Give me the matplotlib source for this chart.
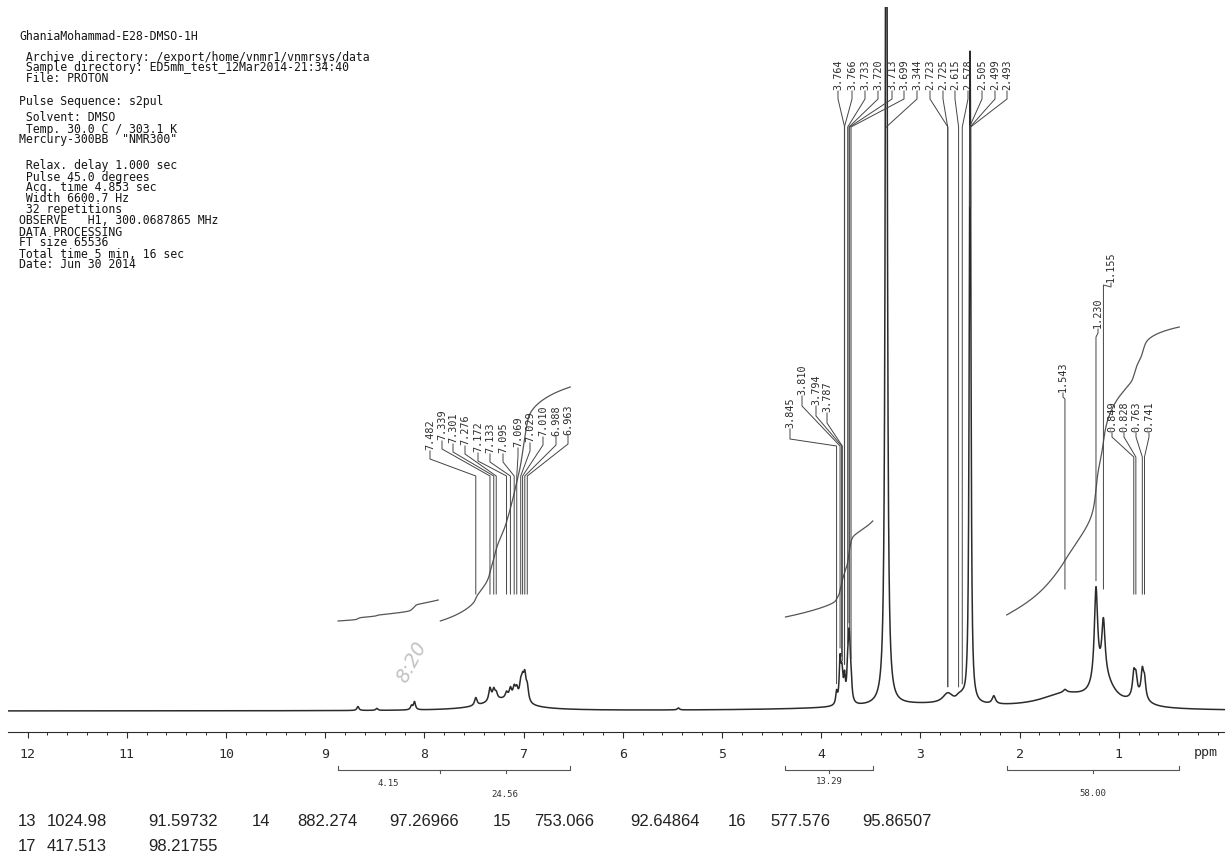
import matplotlib
matplotlib.use('Agg')
import matplotlib.pyplot as plt
import numpy as np
from matplotlib.ticker import MultipleLocator

W, H = 1225, 854
AXIS_Y = 733      # pixel row of the ppm axis line
BASE_Y = 712      # pixel row of the flat baseline

# ppm scale: column = 1218 - 99.2 * ppm
def px2ppm(x):
	return (1218 - x) / 99.2

def py(y):
	return AXIS_Y - y


header = [
	(36, 'GhaniaMohammad-E28-DMSO-1H'),
	(57, ' Archive directory: /export/home/vnmr1/vnmrsys/data'),
	(68, ' Sample directory: ED5mm_test_12Mar2014-21:34:40'),
	(79, ' File: PROTON'),
	(101, 'Pulse Sequence: s2pul'),
	(118, ' Solvent: DMSO'),
	(129, ' Temp. 30.0 C / 303.1 K'),
	(140, 'Mercury-300BB  "NMR300"'),
	(166, ' Relax. delay 1.000 sec'),
	(177, ' Pulse 45.0 degrees'),
	(188, ' Acq. time 4.853 sec'),
	(199, ' Width 6600.7 Hz'),
	(210, ' 32 repetitions'),
	(221, 'OBSERVE   H1, 300.0687865 MHz'),
	(232, 'DATA PROCESSING'),
	(243, 'FT size 65536'),
	(254, 'Total time 5 min, 16 sec'),
	(265, 'Date: Jun 30 2014'),
]

# labelled lines: shift (ppm), height above baseline (px), half width (ppm)
top_vals    = [3.764, 3.766, 3.733, 3.720, 3.713, 3.699, 3.344, 2.723, 2.725, 2.615, 2.578, 2.505, 2.499, 2.493]
top_heights = [12, 12, 30, 40, 30, 20, 1200, 5, 5, 4, 4, 150, 460, 150]
top_widths  = [0.01, 0.01, 0.01, 0.01, 0.01, 0.01, 0.01, 0.06, 0.06, 0.03, 0.03, 0.008, 0.008, 0.008]

mid_vals    = [3.845, 3.810, 3.794, 3.787]
mid_heights = [12, 42, 18, 14]
mid_widths  = [0.01, 0.01, 0.01, 0.01]

arom_vals    = [7.482, 7.339, 7.301, 7.276, 7.172, 7.133, 7.095, 7.069, 7.029, 7.010, 6.988, 6.963]
arom_heights = [8, 13, 10, 6, 6, 10, 11, 10, 14, 17, 23, 14]
arom_widths  = [0.015] * 12

right_vals    = [1.543, 1.230, 1.155, 0.849, 0.828, 0.763, 0.741]
right_heights = [3, 95, 55, 22, 18, 25, 18]
right_widths  = [0.02, 0.02, 0.02, 0.015, 0.015, 0.015, 0.015]

# unlabelled small lines and broad humps
extra_ppm     = [8.67, 8.48, 8.13, 8.10, 5.44, 2.26, 7.2, 3.0, 1.55, 1.15, 0.8]
extra_heights = [4, 2, 4, 8, 2, 8, 11, 6, 14, 25, 8]
extra_widths  = [0.012, 0.012, 0.012, 0.012, 0.012, 0.02, 0.25, 0.9, 0.3, 0.12, 0.1]

# integral regions (ppm), curve start / end rows, printed values
int_start  = [8.87, 7.84, 4.36, 2.13]
int_end    = [7.86, 6.53, 3.48, 0.39]
int_y0     = [622, 622, 618, 616]
int_y1     = [601, 388, 522, 328]
int_values = ['4.15', '24.56', '13.29', '58.00']

# peak table printed under the spectrum
table_rows = [
	['13', '1024.98', '91.59732', '14', '882.274', '97.26966', '15', '753.066', '92.64864', '16', '577.576', '95.86507'],
	['17', '417.513', '98.21755'],
]
table_x = [18, 47, 148, 252, 297, 389, 493, 534, 630, 728, 770, 862]
table_y = [822, 847]


ppm = np.linspace(12.2, -0.08, 12000)

def lorentz(p0, h, w):
	return h / (1 + ((ppm - p0) / w) ** 2)

spec = np.zeros_like(ppm)
for vals, hs, ws in [(top_vals, top_heights, top_widths),
					 (mid_vals, mid_heights, mid_widths),
					 (arom_vals, arom_heights, arom_widths),
					 (right_vals, right_heights, right_widths),
					 (extra_ppm, extra_heights, extra_widths)]:
	for p0, h, w in zip(vals, hs, ws):
		spec += lorentz(p0, h, w)

def spec_at(p):
	return np.interp(p, ppm[::-1], spec[::-1])


fig = plt.figure(figsize=(W / 100, H / 100), dpi=100)
ax = fig.add_axes([8 / W, (H - AXIS_Y) / H, (W - 8) / W, (AXIS_Y - 8) / H])
ax.set_xlim(px2ppm(8), px2ppm(W))
ax.set_ylim(0, AXIS_Y - 8)

ink = '#2b2b2b'
ax.plot(ppm, py(BASE_Y) + spec, color=ink, lw=1.1)

# axis
for s in ['top', 'left', 'right']:
	ax.spines[s].set_visible(False)
ax.spines['bottom'].set_color(ink)
ax.set_yticks([])
ax.set_xticks(range(1, 13))
ax.xaxis.set_minor_locator(MultipleLocator(0.2))
ax.tick_params(axis='x', which='major', direction='out', length=4.5, width=0.8, pad=6, color=ink,
			   labelsize=9.5, labelcolor=ink)
ax.tick_params(axis='x', which='minor', direction='out', length=2.5, width=0.7, color=ink)
for t in ax.get_xticklabels():
	t.set_family('DejaVu Sans Mono')
ax.text(0, py(753), 'ppm', ha='right', va='center', family='DejaVu Sans Mono', fontsize=9.5,
		color=ink, clip_on=False)

# integrals
for a, b, y0, y1 in zip(int_start, int_end, int_y0, int_y1):
	m = (ppm <= a) & (ppm >= b)
	cum = np.cumsum(spec[m])
	curve = y0 + (y1 - y0) * cum / cum[-1]
	ax.plot(ppm[m], py(curve), color='#555555', lw=0.9)

# integral brackets and values
brackets = [(8.87, 6.53, [7.84, 7.18]), (4.36, 3.48, [3.92]), (2.13, 0.39, [1.26])]
for a, b, inner in brackets:
	ax.plot([a, a, b, b], [py(767), py(771), py(771), py(767)], color='#555555', lw=0.8, clip_on=False)
	for p in inner:
		ax.plot([p, p], [py(771), py(774)], color='#555555', lw=0.8, clip_on=False)
lab_y = [784, 795, 782, 794]
for a, b, v, y in zip(int_start, int_end, int_values, lab_y):
	ax.text((a + b) / 2, py(y), v, ha='center', va='center', family='DejaVu Sans Mono',
			fontsize=6.5, color='#333333', clip_on=False)

# peak labels with leader lines
def peak_labels(vals, xs, bottoms, kink, diag_end, gap, stop=None):
	for i, (v, x, b) in enumerate(zip(vals, xs, bottoms)):
		pl = px2ppm(x)
		ax.text(pl, py(b), '%.3f' % v, rotation=90, ha='center', va='bottom',
				family='DejaVu Sans Mono', fontsize=7.3, color=ink)
		top = py(BASE_Y) + spec_at(v) + gap
		if stop is not None:
			top = max(top, py(stop[i]))
		d = diag_end[i] if isinstance(diag_end, list) else diag_end
		end = min(top, py(d))
		ax.plot([pl, pl, v, v], [py(b + 2), py(b + kink), py(d), end],
				color='#444444', lw=0.7)

top_x = [838, 852, 865, 878, 892, 904, 917, 930, 943, 955, 968, 982, 995, 1007]
peak_labels(top_vals, top_x, [90] * 14, 10, 128, 6)

mid_x = [790, 802, 816, 827]
peak_labels(mid_vals, mid_x, [428, 395, 405, 412], 12, 447, 6)

arom_x = [430, 442, 453, 465, 478, 490, 503, 518, 530, 543, 556, 568]
arom_b = [450, 440, 443, 445, 452, 453, 453, 447, 442, 436, 436, 435]
peak_labels(arom_vals, arom_x, arom_b, 10, 477, 6, stop=[595] * 12)

right_x = [1063, 1098, 1111, 1112, 1124, 1136, 1149]
right_b = [392, 328, 282, 432, 432, 432, 432]
right_d = [400, 338, 286, 458, 458, 458, 458]
peak_labels(right_vals, right_x, right_b, 6, right_d, 6, stop=[590, 590, 590, 595, 595, 595, 595])

# pencil note
fig.text(412 / W, 1 - 662 / H, '8:20', rotation=62, ha='center', va='center', fontsize=14,
		 style='italic', color='#c2c2c2')

for y, s in header:
	fig.text(19 / W, 1 - y / H, s, ha='left', va='center', family='DejaVu Sans Mono',
			 fontsize=8.3, color='#151515')

for row, y in zip(table_rows, table_y):
	for s, x in zip(row, table_x):
		fig.text(x / W, 1 - y / H, s, ha='left', va='center', family='Liberation Sans',
				 fontsize=12, color='#222222')

fig.savefig('out.png', dpi=100, facecolor='white')
